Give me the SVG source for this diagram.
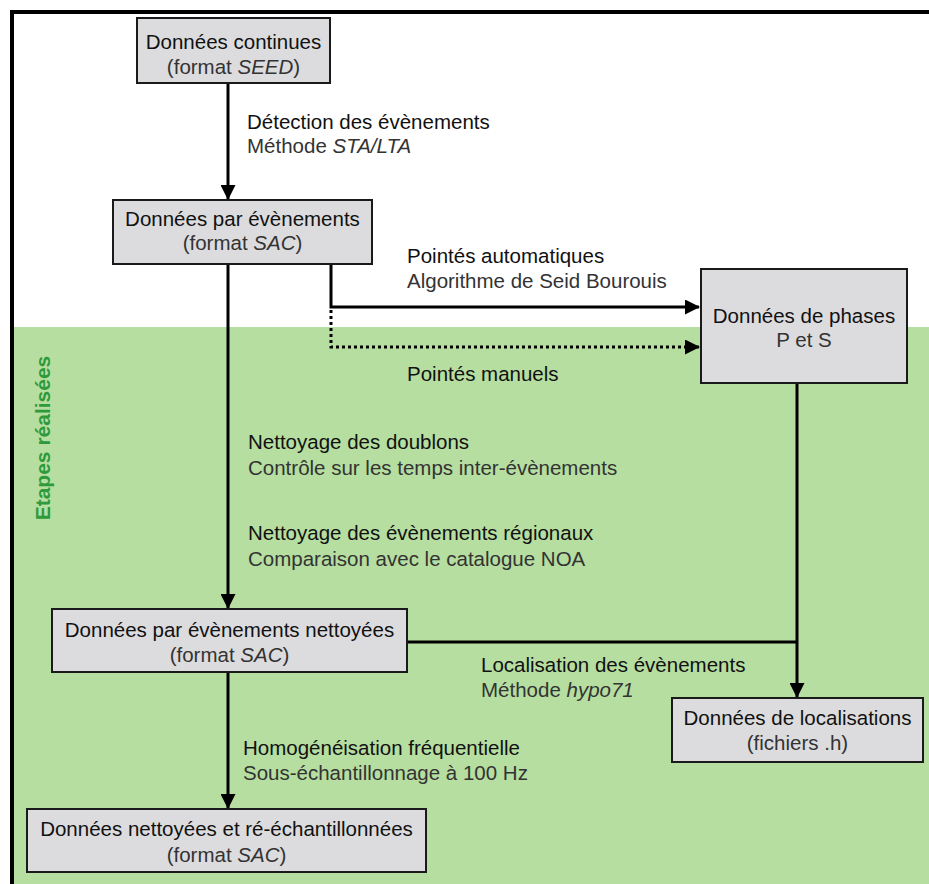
<svg xmlns="http://www.w3.org/2000/svg" width="929" height="884" viewBox="0 0 929 884">
<defs>
<style>
.box{fill:#dcdcde;stroke:#1a1a1a;stroke-width:2}
.t{font-family:"Liberation Sans",Arial,sans-serif;font-size:20.5px;fill:#111}
.s{font-family:"Liberation Sans",Arial,sans-serif;font-size:20.5px;fill:#333}
.c{text-anchor:middle}
.ln{fill:none;stroke:#000;stroke-width:3}
.dot{fill:none;stroke:#000;stroke-width:3;stroke-dasharray:3 3}
</style>
<marker id="ah" markerWidth="15" markerHeight="15" refX="14" refY="7.5" orient="auto" markerUnits="userSpaceOnUse">
<path d="M0,0 L15,7.5 L0,15 Z" fill="#000"/>
</marker>
</defs>
<rect x="0" y="0" width="929" height="884" fill="#fff"/>
<rect x="12" y="327" width="917" height="557" fill="#b6dea0"/>
<path d="M12,884 L12,12 L929,12" fill="none" stroke="#000" stroke-width="4"/>
<text transform="translate(50,438) rotate(-90)" text-anchor="middle" style="font-family:'Liberation Sans',Arial,sans-serif;font-size:21px;font-weight:bold;fill:#2e9a3c">Etapes réalisées</text>

<g id="connectors">
<path class="ln" d="M228,83 L228,199" marker-end="url(#ah)"/>
<path class="ln" d="M228,264 L228,608" marker-end="url(#ah)"/>
<path class="ln" d="M331,264 L331,307 L699,307" marker-end="url(#ah)"/>
<path class="dot" d="M331,310 L331,347 L686,347"/>
<path class="ln" d="M686,347 L699,347" marker-end="url(#ah)"/>
<path class="ln" d="M797,383 L797,697" marker-end="url(#ah)"/>
<path class="ln" d="M407,642 L797,642"/>
<path class="ln" d="M228,672 L228,808" marker-end="url(#ah)"/>
</g>

<g id="lbl-detection">
<text class="t" x="247" y="129">Détection des évènements</text>
<text class="s" x="247" y="153">Méthode <tspan font-style="italic">STA/LTA</tspan></text>
</g>
<g id="lbl-auto">
<text class="t" x="407" y="263">Pointés automatiques</text>
<text class="s" x="407" y="288">Algorithme de Seid Bourouis</text>
</g>
<g id="lbl-manuels">
<text class="t" x="407" y="381">Pointés manuels</text>
</g>
<g id="lbl-doublons">
<text class="t" x="248" y="449">Nettoyage des doublons</text>
<text class="s" x="248" y="475">Contrôle sur les temps inter-évènements</text>
</g>
<g id="lbl-regionaux">
<text class="t" x="248" y="540">Nettoyage des évènements régionaux</text>
<text class="s" x="248" y="566">Comparaison avec le catalogue NOA</text>
</g>
<g id="lbl-localisation">
<text class="t" x="481" y="672">Localisation des évènements</text>
<text class="s" x="481" y="697">Méthode <tspan font-style="italic">hypo71</tspan></text>
</g>
<g id="lbl-homog">
<text class="t" x="243" y="755">Homogénéisation fréquentielle</text>
<text class="s" x="243" y="780">Sous-échantillonnage à 100 Hz</text>
</g>

<g id="n-continues">
<rect class="box" x="137" y="18" width="193" height="65"/>
<text class="t c" x="233.5" y="49">Données continues</text>
<text class="s c" x="233.5" y="74">(format <tspan font-style="italic">SEED</tspan>)</text>
</g>
<g id="n-evenements">
<rect class="box" x="113" y="200" width="259" height="64"/>
<text class="t c" x="242.5" y="226">Données par évènements</text>
<text class="s c" x="242.5" y="250">(format <tspan font-style="italic">SAC</tspan>)</text>
</g>
<g id="n-phases">
<rect class="box" x="701" y="269" width="206" height="114"/>
<text class="t c" x="804" y="323">Données de phases</text>
<text class="s c" x="804" y="347">P et S</text>
</g>
<g id="n-nettoyees">
<rect class="box" x="52" y="609" width="355" height="63"/>
<text class="t c" x="229.5" y="637">Données par évènements nettoyées</text>
<text class="s c" x="229.5" y="662">(format <tspan font-style="italic">SAC</tspan>)</text>
</g>
<g id="n-localisations">
<rect class="box" x="672" y="698" width="251" height="64"/>
<text class="t c" x="797.5" y="725">Données de localisations</text>
<text class="s c" x="797.5" y="750">(fichiers .h)</text>
</g>
<g id="n-reech">
<rect class="box" x="27" y="809" width="399" height="63"/>
<text class="t c" x="226.5" y="836">Données nettoyées et ré-échantillonnées</text>
<text class="s c" x="226.5" y="862">(format <tspan font-style="italic">SAC</tspan>)</text>
</g>
</svg>
